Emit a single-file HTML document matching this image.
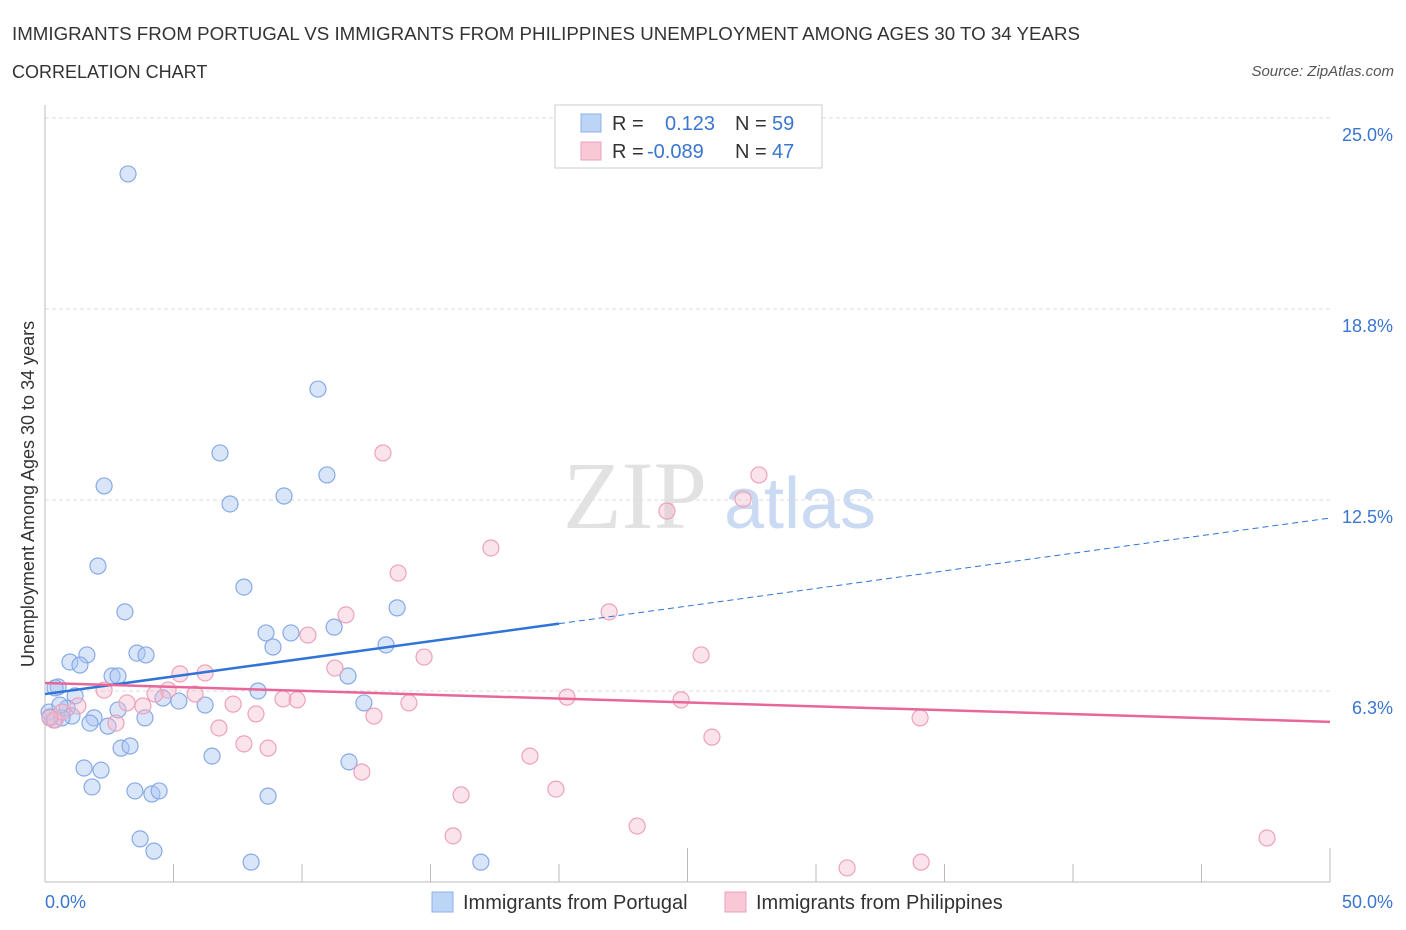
<!DOCTYPE html>
<html><head><meta charset="utf-8"><style>
body{margin:0;background:#fff;font-family:"Liberation Sans",sans-serif;}
svg{display:block}
</style></head><body>
<svg id="chart" width="1406" height="930">
<text x="12" y="40" font-size="18" fill="#333" textLength="1068" lengthAdjust="spacingAndGlyphs">IMMIGRANTS FROM PORTUGAL VS IMMIGRANTS FROM PHILIPPINES UNEMPLOYMENT AMONG AGES 30 TO 34 YEARS</text>
<text x="12" y="78" font-size="18" fill="#333">CORRELATION CHART</text>
<text x="1394" y="76" font-size="15" fill="#555" font-style="italic" text-anchor="end">Source: ZipAtlas.com</text>
<text x="635" y="528" font-size="96" fill="#e2e2e2" font-family="Liberation Serif,serif" text-anchor="middle">ZIP</text>
<text x="800" y="528" font-size="72" fill="#c9daf2" text-anchor="middle">atlas</text>
<g id="grid"></g>
<g id="marks"></g>
<text transform="translate(34,494) rotate(-90)" font-size="18" fill="#333" text-anchor="middle">Unemployment Among Ages 30 to 34 years</text>
<text x="45" y="908" font-size="18" fill="#3a75d0">0.0%</text>
<text x="1393" y="908" font-size="18" fill="#3a75d0" text-anchor="end">50.0%</text>
<g>
<rect x="555" y="105" width="267" height="63" fill="#fff" stroke="#ccc"/>
<rect x="581" y="114" width="20" height="18" fill="#bcd4f5" stroke="#8fb0e8"/>
<rect x="581" y="142" width="20" height="18" fill="#f9c8d6" stroke="#f0a0b8"/>
<text x="612" y="130" font-size="20" fill="#333">R =</text><text x="665" y="130" font-size="20" fill="#3a75d0">0.123</text>
<text x="735" y="130" font-size="20" fill="#333">N =</text><text x="772" y="130" font-size="20" fill="#3a75d0">59</text>
<text x="612" y="158" font-size="20" fill="#333">R =</text><text x="647" y="158" font-size="20" fill="#3a75d0">-0.089</text>
<text x="735" y="158" font-size="20" fill="#333">N =</text><text x="772" y="158" font-size="20" fill="#3a75d0">47</text>
</g>
<g>
<rect x="432" y="892" width="21" height="20" fill="#bcd4f5" stroke="#8fb0e8"/>
<text x="463" y="909" font-size="20" fill="#333">Immigrants from Portugal</text>
<rect x="725" y="892" width="21" height="20" fill="#f9c8d6" stroke="#f0a0b8"/>
<text x="756" y="909" font-size="20" fill="#333">Immigrants from Philippines</text>
</g>
</svg>
<script>
const yTicks=[25.0,18.8,12.5,6.3];
const yTickVals=[25,18.75,12.5,6.25];
const xTicks=[0,5,10,15,20,25,30,35,40,45,50];
const portugalX=[3.23,10.62,6.81,10.97,2.30,9.30,7.20,2.06,7.74,3.11,13.70,8.60,9.57,11.25,8.87,13.27,3.58,3.93,1.63,0.97,1.36,2.61,2.84,11.79,0.51,8.29,1.17,4.59,5.21,6.23,12.41,0.16,0.86,2.84,3.89,1.91,1.05,1.75,0.35,2.45,2.96,3.31,6.50,1.52,2.18,11.83,1.83,3.50,4.16,4.44,8.68,3.70,4.24,8.02,16.96,0.19,0.66,0.39,0.58];
const portugalY=[23.17,16.13,14.04,13.32,12.96,12.63,12.37,10.34,9.65,8.84,8.97,8.15,8.15,8.34,7.69,7.76,7.49,7.43,7.43,7.20,7.10,6.74,6.74,6.74,6.38,6.25,6.09,6.02,5.92,5.79,5.86,5.56,5.69,5.63,5.37,5.37,5.43,5.20,5.30,5.10,4.38,4.45,4.12,3.73,3.66,3.93,3.11,2.98,2.88,2.98,2.81,1.41,1.01,0.65,0.65,5.40,5.37,6.35,5.79];
const philX=[13.15,27.78,27.16,24.20,17.35,13.74,21.95,11.71,10.23,25.53,14.75,11.28,5.25,6.23,2.30,4.79,5.84,4.28,20.31,24.75,9.26,9.81,7.32,14.16,3.81,12.80,8.21,3.19,34.05,6.77,2.76,25.95,7.74,8.68,18.87,12.33,19.88,16.19,23.04,15.88,31.21,34.09,47.55,0.39,1.28,0.66,0.19];
const philY=[14.04,13.32,12.53,12.14,10.93,10.11,8.84,8.74,8.08,7.43,7.36,7.00,6.81,6.84,6.28,6.28,6.15,6.15,6.05,5.96,5.99,5.96,5.82,5.86,5.76,5.43,5.50,5.86,5.37,5.04,5.20,4.74,4.52,4.38,4.12,3.60,3.04,2.85,1.83,1.51,0.46,0.65,1.44,5.30,5.76,5.56,5.37];
const portugalTrend=[6.15,11.91];
const philTrend=[6.51,5.24];
const X0=45,X1=1330,Y0=882,PPU=191/6.25;
const sx=v=>X0+(X1-X0)*v/50, sy=v=>Y0-v*PPU;
const NS='http://www.w3.org/2000/svg';
function mk(p,tag,attrs){const e=document.createElementNS(NS,tag);for(const k in attrs)e.setAttribute(k,attrs[k]);p.appendChild(e);return e;}
const grid=document.getElementById('grid'),marks=document.getElementById('marks');
yTickVals.forEach((v,i)=>{
 const l=mk(grid,'line',{x1:X0,x2:X1,y1:sy(v),y2:sy(v),stroke:'#ddd','stroke-dasharray':'4,3'});
 
 
 const t=mk(grid,'text',{x:1393,y:sy(v)+23,'font-size':18,fill:'#3a75d0','text-anchor':'end'});
 t.textContent=yTicks[i].toFixed(1)+'%';
 
 
});
const ax=mk(grid,'line',{x1:X0,x2:X0,y1:105,y2:Y0,stroke:'#bbb'});


const bx=mk(grid,'line',{x1:X0,x2:X1,y1:Y0,y2:Y0,stroke:'#bbb'});


xTicks.forEach(v=>{
 const t=mk(grid,'line',{x1:sx(v),x2:sx(v),y1:(v==25||v==50)?848:864,y2:Y0,stroke:'#bbb'});
 
 
});
function dots(xs,ys,fill,stroke,name){xs.forEach((x,i)=>{
 const c=mk(marks,'circle',{cx:sx(x),cy:sy(ys[i]),r:8,fill:fill,stroke:stroke,'stroke-width':1.2});
 
 
});}
dots(portugalX,portugalY,'rgba(170,198,242,0.45)','#88aae6','portugal-point');
dots(philX,philY,'rgba(246,186,205,0.4)','#eea2ba','philippines-point');
const mid=portugalTrend[0]+(portugalTrend[1]-portugalTrend[0])*20/50;
const b1=mk(marks,'line',{x1:sx(0),y1:sy(portugalTrend[0]),x2:sx(20),y2:sy(mid),stroke:'#2f74d6','stroke-width':2.5});


const b2=mk(marks,'line',{x1:sx(20),y1:sy(mid),x2:sx(50),y2:sy(portugalTrend[1]),stroke:'#2f74d6','stroke-width':1,'stroke-dasharray':'6,4'});


const p1=mk(marks,'line',{x1:sx(0),y1:sy(philTrend[0]),x2:sx(50),y2:sy(philTrend[1]),stroke:'#e8679a','stroke-width':2.5});


</script>
</body></html>
